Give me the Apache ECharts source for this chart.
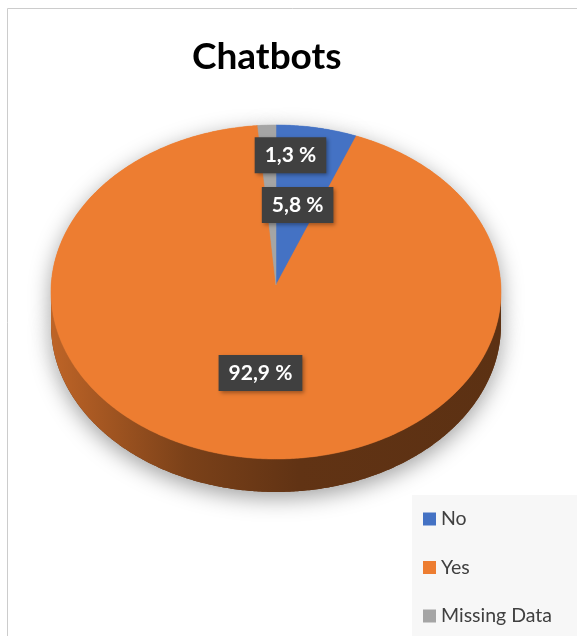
<!DOCTYPE html>
<html>
<head>
<meta charset="utf-8">
<title>Chatbots</title>
<script src="https://cdn.jsdelivr.net/npm/echarts@6/dist/echarts.min.js"></script>
<style>
  html, body { margin: 0; padding: 0; background: #ffffff; }
  #chart { width: 577px; height: 636px; }
</style>
</head>
<body>
<div id="chart"></div>
<script>
// Survey answers, share of respondents in percent
const categories = ['No', 'Yes', 'Missing Data'];
const shares = [5.8, 92.9, 1.3];
const sliceColors = ['#4472C4', '#ED7D31', '#A5A5A5'];

// Tilted pie geometry (pixels): ellipse of the top face, rim depth,
// and how far the apex sits above the ellipse centre (perspective)
const PIE = { cx: 276, cy: 292, rx: 225, ry: 167, depth: 33, lift: 7 };
// Label anchor as a fraction of the radius along each slice's mid-angle
const LABEL_RADIUS = [0.53, 0.49, 0.82];
const LABEL_SHIFT_X = [0, 0, 22];

const total = shares.reduce((a, b) => a + b, 0);
const startOf = shares.map((_, i) => shares.slice(0, i).reduce((a, b) => a + b, 0));

function shade(hex, f) {
  const n = parseInt(hex.slice(1), 16);
  const r = Math.round(((n >> 16) & 255) * f);
  const g = Math.round(((n >> 8) & 255) * f);
  const b = Math.round((n & 255) * f);
  return 'rgb(' + r + ',' + g + ',' + b + ')';
}

// Angle in degrees, clockwise from 12 o'clock
function rim(deg, dy) {
  const t = deg * Math.PI / 180;
  return [PIE.cx + PIE.rx * Math.sin(t), PIE.cy - PIE.ry * Math.cos(t) + (dy || 0)];
}
function arc(a0, a1, dy) {
  const pts = [];
  const n = Math.max(2, Math.ceil(Math.abs(a1 - a0) / 0.5));
  for (let k = 0; k <= n; k++) pts.push(rim(a0 + (a1 - a0) * k / n, dy));
  return pts;
}

function renderSlice(idx) {
  return function (params, api) {
    const value = api.value(0);
    const a0 = 360 * startOf[idx] / total;
    const a1 = a0 + 360 * value / total;
    const color = sliceColors[idx];
    const apex = [PIE.cx, PIE.cy - PIE.lift];
    const topFace = [apex].concat(arc(a0, a1));
    const children = [];

    // Visible rim: the part of the slice on the front half (90..270 deg)
    const b0 = Math.max(a0, 90), b1 = Math.min(a1, 270);
    let band = null;
    if (b1 > b0) {
      band = arc(b0, b1).concat(arc(b1, b0, PIE.depth));
    }
    const rimFill = new echarts.graphic.LinearGradient(PIE.cx - PIE.rx, 0, PIE.cx + PIE.rx, 0, [
      { offset: 0, color: shade(color, 0.8) },
      { offset: 0.3, color: shade(color, 0.52) },
      { offset: 0.55, color: shade(color, 0.41) },
      { offset: 1, color: shade(color, 0.39) }
    ], true);

    // Soft drop shadow under the whole slice
    const shadowStyle = {
      fill: color,
      shadowBlur: 22,
      shadowColor: 'rgba(0,0,0,0.38)',
      shadowOffsetX: 0,
      shadowOffsetY: 6
    };
    children.push({ type: 'polygon', z2: 0, shape: { points: topFace }, style: shadowStyle, silent: true });
    if (band) {
      children.push({ type: 'polygon', z2: 0, shape: { points: band }, style: Object.assign({}, shadowStyle, { fill: shade(color, 0.45) }), silent: true });
      children.push({ type: 'polygon', z2: 5, shape: { points: band }, style: { fill: rimFill } });
    }
    children.push({ type: 'polygon', z2: 10, shape: { points: topFace }, style: { fill: color, stroke: color, lineWidth: 0.5 } });

    // Data label on a dark box
    const mid = (a0 + a1) / 2;
    const f = LABEL_RADIUS[idx];
    const t = mid * Math.PI / 180;
    const lx = PIE.cx + PIE.rx * f * Math.sin(t) + LABEL_SHIFT_X[idx];
    const ly = PIE.cy - PIE.ry * f * Math.cos(t);
    children.push({
      type: 'text', z2: 20,
      x: lx, y: ly,
      style: {
        text: value.toFixed(1).replace('.', ',') + ' %',
        fill: '#ffffff',
        font: 'bold 21px Lato, "Open Sans", sans-serif',
        align: 'center',
        verticalAlign: 'middle',
        backgroundColor: '#404040',
        padding: [8, 10, 7, 10],
        shadowBlur: 4,
        shadowColor: 'rgba(0,0,0,0.35)',
        shadowOffsetX: 2,
        shadowOffsetY: 2
      }
    });
    return { type: 'group', children: children };
  };
}

const chart = echarts.init(document.getElementById('chart'), null, { renderer: 'canvas' });
chart.setOption({
  animation: false,
  backgroundColor: '#ffffff',
  color: sliceColors,
  title: {
    text: 'Chatbots',
    left: 192,
    top: 39,
    padding: 0,
    textStyle: { fontFamily: 'Lato', fontWeight: 'bold', fontSize: 37, color: '#000000' }
  },
  legend: {
    data: categories,
    orient: 'vertical',
    left: 412,
    top: 495,
    height: 130,
    padding: [14, 40, 10, 11],
    backgroundColor: '#f7f7f7',
    icon: 'rect',
    itemWidth: 13,
    itemHeight: 13,
    itemGap: 28.5,
    selectedMode: false,
    textStyle: { fontFamily: 'Lato', fontSize: 19.5, color: '#404040', lineHeight: 20 }
  },
  graphic: [{
    type: 'rect',
    z: 100,
    silent: true,
    shape: { x: 7.5, y: 8.5, width: 700, height: 800 },
    style: { fill: null, stroke: '#cccccc', lineWidth: 1 }
  }],
  series: categories.map((name, i) => ({
    type: 'custom',
    name: name,
    coordinateSystem: 'none',
    itemStyle: { color: sliceColors[i] },
    data: [[shares[i]]],
    renderItem: renderSlice(i)
  }))
});
</script>
</body>
</html>
